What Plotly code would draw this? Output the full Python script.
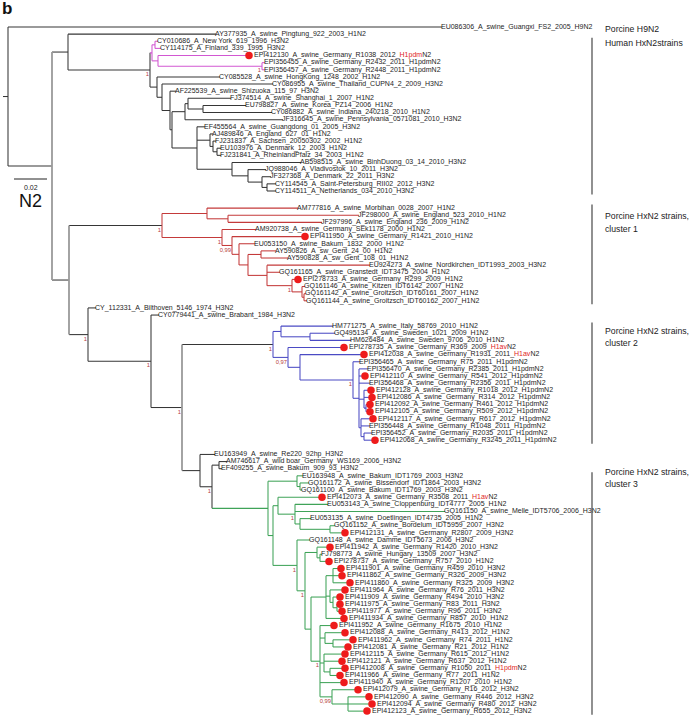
import re
import plotly.graph_objects as go

# ---------------- data (branch lengths in units of 0.02/33 substitutions/site) ----------------
UNIT = 0.02 / 33
SCALE_BAR = 0.02

HUMAN_ASIA = (
    "(AY377935_A_swine_Pingtung_922_2003_H1N2:148,"
    "(((CY010686_A_New York_619_1996_H3N2:3,CY114175_A_Finland_339_1995_H3N2:6)P1:3,"
    "(EPI412130_A_swine_Germany_R1038_2012_H1pdmN2:91,"
    "(EPI356455_A_swine_Germany_R2432_2011_H1pdmN2:3,EPI356457_A_swine_Germany_R2448_2011_H1pdmN2:3)P2:104)Pb:6)P:2,"
    "(CY085528_A_swine_HongKong_1248_2002_H1N2:63,"
    "(CY086955_A_swine_Thailand_CUPN4_2_2009_H3N2:111,"
    "(AF225539_A_swine_Shizuoka_115_97_H3N2:6,"
    "(((FJ374514_A_swine_Shanghai_1_2007_H1N2:43,"
    "(EU798827_A_swine_Korea_PZ14_2006_H1N2:43,CY086882_A_swine_Indiana_240218_2010_H1N2:69)Q5b:15)Q5a:3,"
    "JF316645_A_swine_Pennsylvania_0571081_2010_H3N2:98)Q5:13,"
    "(EF455564_A_swine_Guangdong_01_2005_H3N2:8,"
    "(AJ489846_A_England_627_01_H1N2:3,(FJ231837_A_Sachsen_20050302_2002_H1N2:3,"
    "(EU103976_A_Denmark_12_2003_H1N2:4,FJ231841_A_RheinlandPfalz_34_2003_H1N2:4)Q6a3:4)Q6a2:3)Q6a:13,"
    "(AB598515_A_swine_BinhDuong_03_14_2010_H3N2:69,(JQ988046_A_Vladivostok_10_2011_H3N2:18,"
    "(JF327368_A_Denmark_22_2011_H3N2:9,(CY114545_A_Saint-Petersburg_RII02_2012_H3N2:9,"
    "CY114511_A_Netherlands_034_2010_H3N2:9)Q6e:5)Q6d:14)Q6c:16)Q6b:35)Q6:25)Q4:2)Q3:8)Q2:5)Q:7)D:82)B:16"
)

CLUSTER1 = (
    "((AM777816_A_swine_Morbihan_0028_2007_H1N2:91,"
    "(JF298000_A_swine_England_523_2010_H1N2:131,JF297996_A_swine_England_236_2009_H1N2:94)R1a:21)R1:45,"
    "(AM920738_A_swine_Germany_SEk1178_2000_H1N2:34,"
    "(EPI411950_A_swine_Germany_R1421_2010_H1N2:73,"
    "(EU053150_A_swine_Bakum_1832_2000_H1N2:16,"
    "((AY590826_A_sw_Gent_24_00_H1N2:15,AY590828_A_sw_Gent_108_01_H1N2:27)R5a:13,"
    "(EU924273_A_swine_Nordkirchen_IDT1993_2003_H3N2:103,GQ161165_A_swine_Granstedt_IDT3475_2004_H1N2:13,"
    "(EPI278733_A_swine_Germany_R299_2009_H1N2:6,(GQ161146_A_swine_Kitzen_IDT6142_2007_H1N2:3,"
    "(GQ161142_A_swine_Groitzsch_IDT60161_2007_H1N2:2,GQ161144_A_swine_Groitzsch_IDT60162_2007_H1N2:3)R9:2)R8:10)R7:25"
    ")R6:19)R5:9)R4:7)R3:10)R2:60)R:93"
)

CLUSTER2 = (
    "((HM771275_A_swine_Italy_58769_2010_H1N2:52,"
    "(GQ495134_A_swine_Sweden_1021_2009_H1N2:25,HM626484_A_swine_Sweden_9706_2010_H1N2:41)B1a:29)B1:8,"
    "(EPI278735_A_swine_Germany_R369_2009_H1avN2:56,"
    "(EPI412038_A_swine_Germany_R1931_2011_H1avN2:64,"
    "(EPI356465_A_swine_Germany_R75_2011_H1pdmN2:7,"
    "(EPI356470_A_swine_Germany_R2385_2011_H1pdmN2:9,EPI412110_A_swine_Germany_R541_2012_H1pdmN2:6,"
    "EPI356468_A_swine_Germany_R2356_2011_H1pdmN2:11,"
    "(EPI412128_A_swine_Germany_R1018_2012_H1pdmN2:7,EPI412086_A_swine_Germany_R314_2012_H1pdmN2:8,"
    "(EPI412092_A_swine_Germany_R461_2012_H1pdmN2:4,EPI412105_A_swine_Germany_R509_2012_H1pdmN2:4)Bp3a:2)Bp3:5,"
    "(EPI412117_A_swine_Germany_R617_2012_H1pdmN2:12,EPI356448_A_swine_Germany_R1048_2011_H1pdmN2:9,"
    "(EPI356452_A_swine_Germany_R2035_2011_H1pdmN2:8,EPI412068_A_swine_Germany_R3245_2011_H1pdmN2:11)Bp4a:3)Bp4:2"
    ")Bp2:6)Bpdm:53)B4:12)B3:15)B0:91"
)

CLUSTER3 = (
    "((EU163948_A_swine_Bakum_IDT1769_2003_H3N2:6,"
    "(GQ161172_A_swine_Bissendorf_IDT1864_2003_H3N2:9,GQ161100_A_swine_Bakum_IDT1769_2003_H3N2:2)G1a:3)G1:29,"
    "((EPI412073_A_swine_Germany_R3508_2011_H1avN2:44,"
    "(EU053143_A_swine_Cloppenburg_IDT4777_2005_H1N2:33,GQ161150_A_swine_Melle_IDT5706_2006_H3N2:150,"
    "(EU053135_A_swine_Doetlingen_IDT4735_2005_H1N2:11,"
    "(GQ161152_A_swine_Bordelum_IDT5959_2007_H3N2:5,EPI412131_A_swine_Germany_R2807_2009_H3N2:15)G3d:30)G3c:5"
    ")G3b:17)G3:5,"
    "(GQ161148_A_swine_Damme_IDT5673_2006_H3N2:13,"
    "((EPI411942_A_swine_Germany_R1420_2010_H3N2:13,"
    "(FJ798773_A_swine_Hungary_13509_2007_H3N2:2,EPI278737_A_swine_Germany_R757_2010_H1N2:9)G7a:3)G7:12,"
    "(((EPI411901_A_swine_Germany_R459_2010_H3N2:8,EPI411862_A_swine_Germany_R326_2009_H3N2:9,"
    "EPI411860_A_swine_Germany_R325_2009_H3N2:17)G9a:7,"
    "(EPI411964_A_swine_Germany_R76_2011_H3N2:15,(EPI411909_A_swine_Germany_R494_2010_H3N2:7,"
    "(EPI411975_A_swine_Germany_R83_2011_H3N2:3,EPI411977_A_swine_Germany_R96_2011_H3N2:5)G9d:4)G9c:3)G9b:4,"
    "EPI411934_A_swine_Germany_R857_2010_H1N2:18)G9:15,"
    "(EPI411952_A_swine_Germany_R1675_2010_H1N2:14,"
    "(EPI412088_A_swine_Germany_R413_2012_H1N2:20,"
    "(EPI411962_A_swine_Germany_R74_2011_H1N2:20,EPI412081_A_swine_Germany_R21_2012_H1N2:15)G12c:8)G12a:5,"
    "(EPI412115_A_swine_Germany_R615_2012_H1N2:21,EPI412121_A_swine_Germany_R637_2012_H1N2:18,"
    "(EPI412008_A_swine_Germany_R1050_2011_H1pdmN2:15,EPI411966_A_swine_Germany_R77_2011_H1N2:10)G12d:6)G12b:4,"
    "EPI411940_A_swine_Germany_R1207_2010_H1N2:24,"
    "(EPI412079_A_swine_Germany_R16_2012_H3N2:26,"
    "(EPI412090_A_swine_Germany_R446_2012_H3N2:21,EPI412094_A_swine_Germany_R480_2012_H3N2:24,"
    "EPI412123_A_swine_Germany_R655_2012_H3N2:19)G13a:16)G13:12"
    ")G12:9)G8:6)G6:8)G5:24)G2:5)G0:56"
)

TREE = (
    "(EU086306_A_swine_Guangxi_FS2_2005_H9N2:434,"
    "(" + HUMAN_ASIA + ","
    "(" + CLUSTER1 + ","
    "(CY_112331_A_Bilthoven_5146_1974_H3N2:8,"
    "(CY0779441_A_swine_Brabant_1984_H3N2:8,"
    "(" + CLUSTER2 + ","
    "(EU163949_A_swine_Re220_92hp_H3N2:15,"
    "((AM746617_A_wild boar_Germany_WS169_2006_H3N2:8,EF409255_A_swine_Bakum_909_93_H3N2:3)T3:7,"
    + CLUSTER3 + ")T2:12)T:18)S3:31)S2:63)S:19)C:17)A:44)root;"
)

SUPPORT = {"D": "1", "P2": "1", "R": "1", "R2": "1", "R3": "0,99", "R7": "1",
           "S": "1", "S2": "1", "S3": "1", "B0": "1", "B3": "0,97", "Bpdm": "1",
           "T2": "1", "G3b": "1", "G5": "1", "G6": "1", "G12": "1", "G13": "0,99"}

DOT_LEAVES = ["EPI412130", "EPI411950", "EPI278733", "EPI278735", "EPI412038", "EPI412110",
              "EPI412128", "EPI412086", "EPI412092", "EPI412105", "EPI412117", "EPI412068",
              "EPI412073", "EPI412131", "EPI411942", "EPI278737", "EPI411901", "EPI411862",
              "EPI411860", "EPI411964", "EPI411909", "EPI411975", "EPI411977", "EPI411934",
              "EPI411952", "EPI412088", "EPI411962", "EPI412081", "EPI412115", "EPI412121",
              "EPI412008", "EPI411966", "EPI411940", "EPI412079", "EPI412090", "EPI412094",
              "EPI412123"]
HIGHLIGHT = {"EPI412130": "H1pdm", "EPI412008": "H1pdm", "EPI278735": "H1av",
             "EPI412038": "H1av", "EPI412073": "H1av"}

GROUP_LABELS = [("Porcine H9N2", None), ("Human HxN2strains", None),
                ("Porcine HxN2 strains,", "cluster 1"), ("Porcine HxN2 strains,", "cluster 2"),
                ("Porcine HxN2 strains,", "cluster 3")]
GROUP_LEAF_RANGES = [None, ("CY010686", "CY114511"), ("AM777816", "GQ161144"),
                     ("HM771275", "EPI412068"), ("EU163948", "EPI412123")]

# ---------------- styling ----------------
W, H = 690, 715
ROOT_PX = 8
Y0_PX, SLOT_PX = 27, 7.13
GAP_AFTER = {23: 1.4, 39: 0.55, 56: 1.0}
BLACK = "#363636"
GREY_BACKBONE = "#9a9a9a"
GREY_NODES = {"A", "C", "S3"}
CLADE_COLORS = {"P": "#d257d2", "R": "#c43a3a", "B0": "#4b4bc4", "G0": "#3fa358"}
STEM_COLORED = {"P", "G0"}
FONT = "Liberation Sans, Arial, sans-serif"
LABEL_SIZE = 7.0


def parse(s):
    pos = 0

    def node():
        nonlocal pos
        n = {"children": [], "name": "", "length": 0.0}
        if s[pos] == "(":
            pos += 1
            n["children"].append(node())
            while s[pos] == ",":
                pos += 1
                n["children"].append(node())
            pos += 1
        st = pos
        while pos < len(s) and s[pos] not in ",():;":
            pos += 1
        n["name"] = s[st:pos].strip()
        if pos < len(s) and s[pos] == ":":
            pos += 1
            st = pos
            while pos < len(s) and s[pos] not in ",();":
                pos += 1
            n["length"] = float(s[st:pos])
        return n

    return node()


root = parse(TREE)
leaves = []
slot = [0.0]


def layout(n, x, parent, color):
    n["x"] = x
    n["parent"] = parent
    c = CLADE_COLORS.get(n["name"], color)
    n["color"] = c
    if not n["children"]:
        idx = len(leaves)
        n["y"] = slot[0]
        slot[0] += 1 + GAP_AFTER.get(idx, 0)
        leaves.append(n)
    else:
        for ch in n["children"]:
            layout(ch, x + ch["length"] * UNIT, n, c)
        n["y"] = (n["children"][0]["y"] + n["children"][-1]["y"]) / 2


layout(root, 0.0, None, BLACK)

segs = {}


def add(c, xs, ys, w=1.05):
    key = (c, w)
    segs.setdefault(key, ([], []))
    segs[key][0].extend(xs + [None])
    segs[key][1].extend(ys + [None])


internal = []


def walk(n):
    if n["parent"] is not None:
        c = n["color"]
        if n["name"] in CLADE_COLORS and n["name"] not in STEM_COLORED:
            c = n["parent"]["color"]
        add(c, [n["parent"]["x"], n["x"]], [n["y"], n["y"]])
    if n["children"]:
        internal.append(n)
        if n["name"] in GREY_NODES:
            add(GREY_BACKBONE, [n["x"], n["x"]], [n["children"][0]["y"], n["children"][-1]["y"]], 1.8)
        else:
            add(n["color"], [n["x"], n["x"]], [n["children"][0]["y"], n["children"][-1]["y"]])
        for ch in n["children"]:
            walk(ch)


walk(root)
add(BLACK, [root["x"] - 5 * UNIT, root["x"]], [root["y"], root["y"]])

fig = go.Figure()
for (c, w), (xs, ys) in segs.items():
    fig.add_trace(go.Scatter(x=xs, y=ys, mode="lines", line=dict(color=c, width=w),
                             hoverinfo="skip", showlegend=False))

acc = lambda name: name.split("_")[0]
dots = [l for l in leaves if acc(l["name"]) in DOT_LEAVES]
fig.add_trace(go.Scatter(x=[l["x"] for l in dots], y=[l["y"] for l in dots], mode="markers",
                         marker=dict(color="#ee1b1b", size=7.5, line=dict(width=0)),
                         hoverinfo="skip", showlegend=False))


def label_text(name):
    a = acc(name)
    if a in HIGHLIGHT:
        h = HIGHLIGHT[a]
        i = name.rfind(h)
        return name[:i] + "<span style='color:#e02424'>" + h + "</span>" + name[i + len(h):]
    return name


lx = [l["x"] + (5 if acc(l["name"]) in DOT_LEAVES else -1) * UNIT for l in leaves]
fig.add_trace(go.Scatter(x=lx, y=[l["y"] for l in leaves], mode="text",
                         text=[label_text(l["name"]) for l in leaves],
                         textposition="middle right",
                         textfont=dict(family=FONT, size=LABEL_SIZE, color="#1e1e1e"),
                         hoverinfo="skip", showlegend=False, cliponaxis=False))

sup = [n for n in internal if n["name"] in SUPPORT]
fig.add_trace(go.Scatter(x=[n["x"] - 1 * UNIT for n in sup], y=[n["y"] + 0.25 for n in sup], mode="text",
                         text=[SUPPORT[n["name"]] for n in sup], textposition="bottom left",
                         textfont=dict(family=FONT, size=5.8, color="#b84040"),
                         hoverinfo="skip", showlegend=False, cliponaxis=False))

xmin = -ROOT_PX * UNIT
xmax = (W - ROOT_PX) * UNIT
ymin = -Y0_PX / SLOT_PX
ymax = (H - Y0_PX) / SLOT_PX

leaf_y = {acc(l["name"]): l["y"] for l in leaves}
shapes = []
annos = []
BAR_X = 592 / W
TEXT_X = 603 / W
text_px = [(29, None), (43, None), (216, 229), (331, 343), (472, 484)]
for (t1, t2), rng, (p1, p2) in zip(GROUP_LABELS, GROUP_LEAF_RANGES, text_px):
    if rng:
        shapes.append(dict(type="line", xref="paper", yref="y", x0=BAR_X, x1=BAR_X,
                           y0=leaf_y[rng[0]] - 0.5, y1=leaf_y[rng[1]] + 0.5,
                           line=dict(color="#555555", width=1.3)))
    annos.append(dict(xref="paper", yref="paper", x=TEXT_X, y=1 - p1 / H, text=t1, showarrow=False,
                      xanchor="left", yanchor="middle", font=dict(family=FONT, size=8.7, color="#222")))
    if t2:
        annos.append(dict(xref="paper", yref="paper", x=TEXT_X, y=1 - p2 / H, text=t2, showarrow=False,
                          xanchor="left", yanchor="middle", font=dict(family=FONT, size=8.7, color="#222")))

# scale bar
sb_x0 = (14 - ROOT_PX) * UNIT
shapes.append(dict(type="line", xref="x", yref="paper", x0=sb_x0, x1=sb_x0 + SCALE_BAR,
                   y0=1 - 179 / H, y1=1 - 179 / H, line=dict(color="#222", width=1)))
annos.append(dict(xref="x", yref="paper", x=sb_x0 + SCALE_BAR / 2, y=1 - 188 / H, text="0.02",
                  showarrow=False, xanchor="center", yanchor="middle",
                  font=dict(family=FONT, size=7, color="#222")))
annos.append(dict(xref="x", yref="paper", x=sb_x0 + SCALE_BAR / 2, y=1 - 201 / H, text="N2",
                  showarrow=False, xanchor="center", yanchor="middle",
                  font=dict(family=FONT, size=18, color="#111")))
annos.append(dict(xref="paper", yref="paper", x=0 / W, y=1 - 9 / H, text="<b>b</b>", showarrow=False,
                  xanchor="left", yanchor="middle", font=dict(family=FONT, size=17, color="#111")))

fig.update_layout(width=W, height=H, margin=dict(l=0, r=0, t=0, b=0),
                  paper_bgcolor="white", plot_bgcolor="white",
                  xaxis=dict(range=[xmin, xmax], visible=False),
                  yaxis=dict(range=[ymax, ymin], visible=False),
                  shapes=shapes, annotations=annos, showlegend=False, hovermode=False)
fig.write_html("out.html", config={"displayModeBar": False, "staticPlot": True},
               post_script="document.body.style.margin='0';document.body.style.overflow='hidden';")
